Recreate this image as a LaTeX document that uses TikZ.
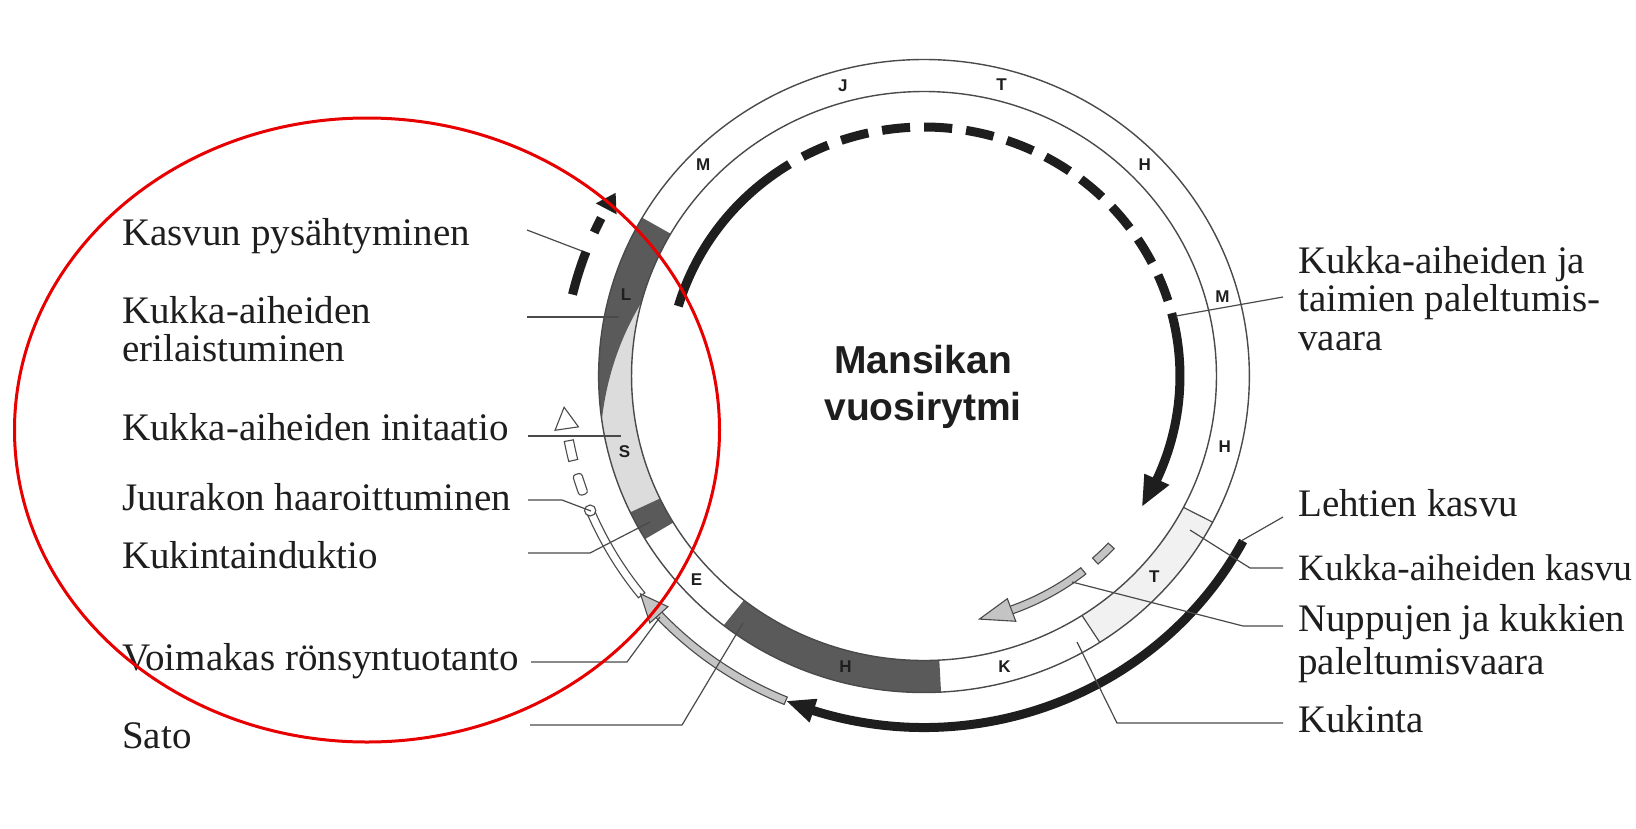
\documentclass[tikz,border=0pt]{standalone}
\usepackage{fontspec}
\setmainfont{Liberation Serif}
\newfontfamily\headfont{Liberation Sans}

\definecolor{ink}{HTML}{1E1E1E}
\definecolor{rule}{HTML}{4A4A4A}
\definecolor{darkband}{HTML}{5A5A5A}
\definecolor{lightband}{HTML}{DCDCDC}
\definecolor{paleband}{HTML}{F1F1F1}
\definecolor{barfill}{HTML}{C4C4C4}
\definecolor{markred}{HTML}{E80000}

% annular sector from angle #1 to #2 between radii #3 (inner) and #4 (outer)
\newcommand\annsector[4]{(#1:#4) arc[start angle=#1,end angle=#2,radius=#4] -- (#2:#3) arc[start angle=#2,end angle=#1,radius=#3] -- cycle}

\begin{document}
\begin{tikzpicture}[x=1pt,y=1pt,
  lbl/.style={font=\fontsize{39}{39}\selectfont, text=ink, inner sep=0pt, anchor=base west},
  month/.style={font=\headfont\bfseries\fontsize{17}{17}\selectfont, text=ink, inner sep=0pt},
  heading/.style={font=\headfont\bfseries\fontsize{39}{39}\selectfont, text=ink, inner sep=0pt, anchor=base},
  leader/.style={draw=rule, line width=1.2pt},
  ringline/.style={draw=rule, line width=1.4pt},
  growth/.style={draw=ink, line width=9pt},
  hollowbar/.style={draw=rule, line width=1.1pt, fill=white},
  greybar/.style={draw=rule, line width=1.1pt, fill=barfill},
]
\useasboundingbox (0,0) rectangle (1636,-828);
\fill[white] (0,0) rectangle (1636,-828);

% ---------------- year wheel ----------------
\begin{scope}[shift={(924,-376)}, xscale=1.028]
  % month ring fills
  \fill[paleband] \annsector{-57.3}{-27.5}{284.5}{316.5};
  \fill[lightband] \annsector{163}{205.5}{284.5}{316.5};
  \fill[darkband] (150:316.5) arc[start angle=150,end angle=188,radius=316.5]
      -- plot[domain=188:165,samples=24] (\x:{284.5+32*(\x-165)/23})
      -- (165:284.5) arc[start angle=165,end angle=150,radius=284.5] -- cycle;
  \fill[darkband] \annsector{205.5}{211}{284.5}{316.5};
  \fill[darkband] \annsector{232}{273}{284.5}{316.5};

  % ring outlines and dividers
  \draw[ringline] (0,0) circle[radius=316.5];
  \draw[ringline] (0,0) circle[radius=284.5];
  \draw[leader] (-27.5:284.5) -- (-27.5:316.5);
  \draw[leader] (-57.3:284.5) -- (-57.3:316.5);

  % month initials
  \node[month] (mJ)  at (105.2:301) {J};
  \node[month] (mT1) at (75.5:301)  {T};
  \node[month] (mH1) at (44.5:301)  {H};
  \node[month] (mM1) at (15.3:301)  {M};
  \node[month] (mH2) at (-13.6:301) {H};
  \node[month] (mT2) at (-41.9:301) {T};
  \node[month] (mK)  at (-74.9:301) {K};
  \node[month] (mH3) at (-104.7:301) {H};
  \node[month] (mE)  at (222.7:301) {E};
  \node[month] (mS)  at (194.5:301) {S};
  \node[month] (mL)  at (164.4:301) {L};
  \node[month] (mM2) at (135.5:301) {M};

  % inner growth arc: solid, dashed over the winter, solid again with arrow
  \draw[growth] (163.7:249) arc[start angle=163.7,end angle=121.7,radius=249];
  \foreach \i in {0,...,10}{
    \pgfmathsetmacro\da{118.3-9.44*\i}
    \pgfmathsetmacro\db{\da-6.3}
    \draw[growth] (\da:249) arc[start angle=\da,end angle=\db,radius=249];
  }
  \draw[growth] (14.6:249) arc[start angle=14.6,end angle=-25,radius=249];
  \fill[ink] (-31.5:249) -- (-24.5:235.5) -- (-24.5:262.5) -- cycle;

  % outer growth arc (leaf growth) with arrow
  \draw[growth] (-28:351.5) arc[start angle=-28,end angle=-108.3,radius=351.5];
  \fill[ink] (-112.3:351.5) -- (-107.8:339) -- (-107.8:364) -- cycle;

  % growth stop: bar, dash and arrow
  \draw[growth] (166.6:351.5) arc[start angle=166.6,end angle=159.3,radius=351.5];
  \draw[growth] (155.9:351.5) arc[start angle=155.9,end angle=153.3,radius=351.5];
  \fill[ink] (148.6:351.5) -- (151.6:340) -- (151.6:363) -- cycle;

  % rhizome branching / flower initiation (hollow bar)
  \filldraw[hollowbar] (185.1:351.5) -- (188.6:340) -- (188.6:363) -- cycle;
  \filldraw[hollowbar] \annsector{190.6}{193.9}{347}{356};
  \filldraw[hollowbar, rounded corners=3pt] \annsector{196.2}{199.7}{347}{356};
  \filldraw[hollowbar] \annsector{202.5}{218.6}{347.5}{355.5};
  \filldraw[hollowbar] (202.5:351.5) circle[radius=5.5];

  % runner production (grey bar)
  \filldraw[greybar] \annsector{222.6}{247.5}{347.5}{355.5};
  \filldraw[greybar] (218.3:351.5) -- (222.8:339.5) -- (222.8:363.5) -- cycle;

  % bud and flower frost risk (grey inner bar)
  \filldraw[greybar] \annsector{-48}{-43}{245}{253};
  \filldraw[greybar] \annsector{-70.2}{-51.5}{245}{253};
  \filldraw[greybar] (-77.5:249) -- (-70:237) -- (-70:261) -- cycle;
\end{scope}

% ---------------- title ----------------
\node[heading] (title1) at (923,-373) {Mansikan};
\node[heading] (title2) at (923,-420) {vuosirytmi};

% ---------------- labels ----------------
\node[lbl] (kasvu) at (122,-245) {Kasvun pysähtyminen};
\node[lbl] (eril1) at (122,-323) {Kukka-aiheiden};
\node[lbl] (eril2) at (122,-361.5) {erilaistuminen};
\node[lbl] (init)  at (122,-440) {Kukka-aiheiden initaatio};
\node[lbl] (juur)  at (122,-510) {Juurakon haaroittuminen};
\node[lbl] (induk) at (122,-568) {Kukintainduktio};
\node[lbl] (rons)  at (122,-670) {Voimakas rönsyntuotanto};
\node[lbl] (sato)  at (122,-748) {Sato};

\node[lbl] (pal1) at (1298,-273) {Kukka-aiheiden ja};
\node[lbl] (pal2) at (1298,-311.5) {taimien paleltumis-};
\node[lbl] (pal3) at (1298,-350) {vaara};
\node[lbl] (leht) at (1298,-516.7) {Lehtien kasvu};
\node[lbl, font=\fontsize{37.2}{37.2}\selectfont] (kasv) at (1298,-580) {Kukka-aiheiden kasvu};
\node[lbl] (nup1) at (1298,-631) {Nuppujen ja kukkien};
\node[lbl] (nup2) at (1298,-674) {paleltumisvaara};
\node[lbl] (kuk)  at (1298,-732) {Kukinta};

% ---------------- leader lines ----------------
\coordinate (kasvu-s) at (527,-230);   \coordinate (kasvu-e) at (582,-251);
\coordinate (eril-s)  at (527,-317);   \coordinate (eril-e)  at (619,-317);
\coordinate (init-s)  at (528,-436);   \coordinate (init-e)  at (621,-436);
\coordinate (juur-s)  at (528,-500);   \coordinate (juur-k)  at (562,-500);  \coordinate (juur-e) at (591,-511);
\coordinate (induk-s) at (528,-553);   \coordinate (induk-k) at (590,-553);  \coordinate (induk-e) at (650,-522);
\coordinate (rons-s)  at (531,-662);   \coordinate (rons-k)  at (627,-662);  \coordinate (rons-e) at (660,-617);
\coordinate (sato-s)  at (530,-725);   \coordinate (sato-k)  at (682,-725);  \coordinate (sato-e) at (743,-623);

\coordinate (pal-s)  at (1283,-297);   \coordinate (pal-e)  at (1176,-316);
\coordinate (leht-s) at (1283,-517);   \coordinate (leht-e) at (1241,-541);
\coordinate (kasv-s) at (1283,-568);   \coordinate (kasv-k) at (1250,-568);  \coordinate (kasv-e) at (1190,-530);
\coordinate (nup-s)  at (1283,-626);   \coordinate (nup-k)  at (1243,-626);  \coordinate (nup-e)  at (1072,-582);
\coordinate (kuk-s)  at (1283,-723);   \coordinate (kuk-k)  at (1117,-723);  \coordinate (kuk-e)  at (1077,-642);

\draw[leader] (kasvu-s) -- (kasvu-e);
\draw[leader] (eril-s) -- (eril-e);
\draw[leader] (init-s) -- (init-e);
\draw[leader] (juur-s) -- (juur-k) -- (juur-e);
\draw[leader] (induk-s) -- (induk-k) -- (induk-e);
\draw[leader] (rons-s) -- (rons-k) -- (rons-e);
\draw[leader] (sato-s) -- (sato-k) -- (sato-e);
\draw[leader] (pal-s) -- (pal-e);
\draw[leader] (leht-s) -- (leht-e);
\draw[leader] (kasv-s) -- (kasv-k) -- (kasv-e);
\draw[leader] (nup-s) -- (nup-k) -- (nup-e);
\draw[leader] (kuk-s) -- (kuk-k) -- (kuk-e);

% ---------------- red highlight ellipse ----------------
\draw[markred, line width=3pt] (367,-430) ellipse[x radius=352.5, y radius=312];
\end{tikzpicture}
\end{document}
